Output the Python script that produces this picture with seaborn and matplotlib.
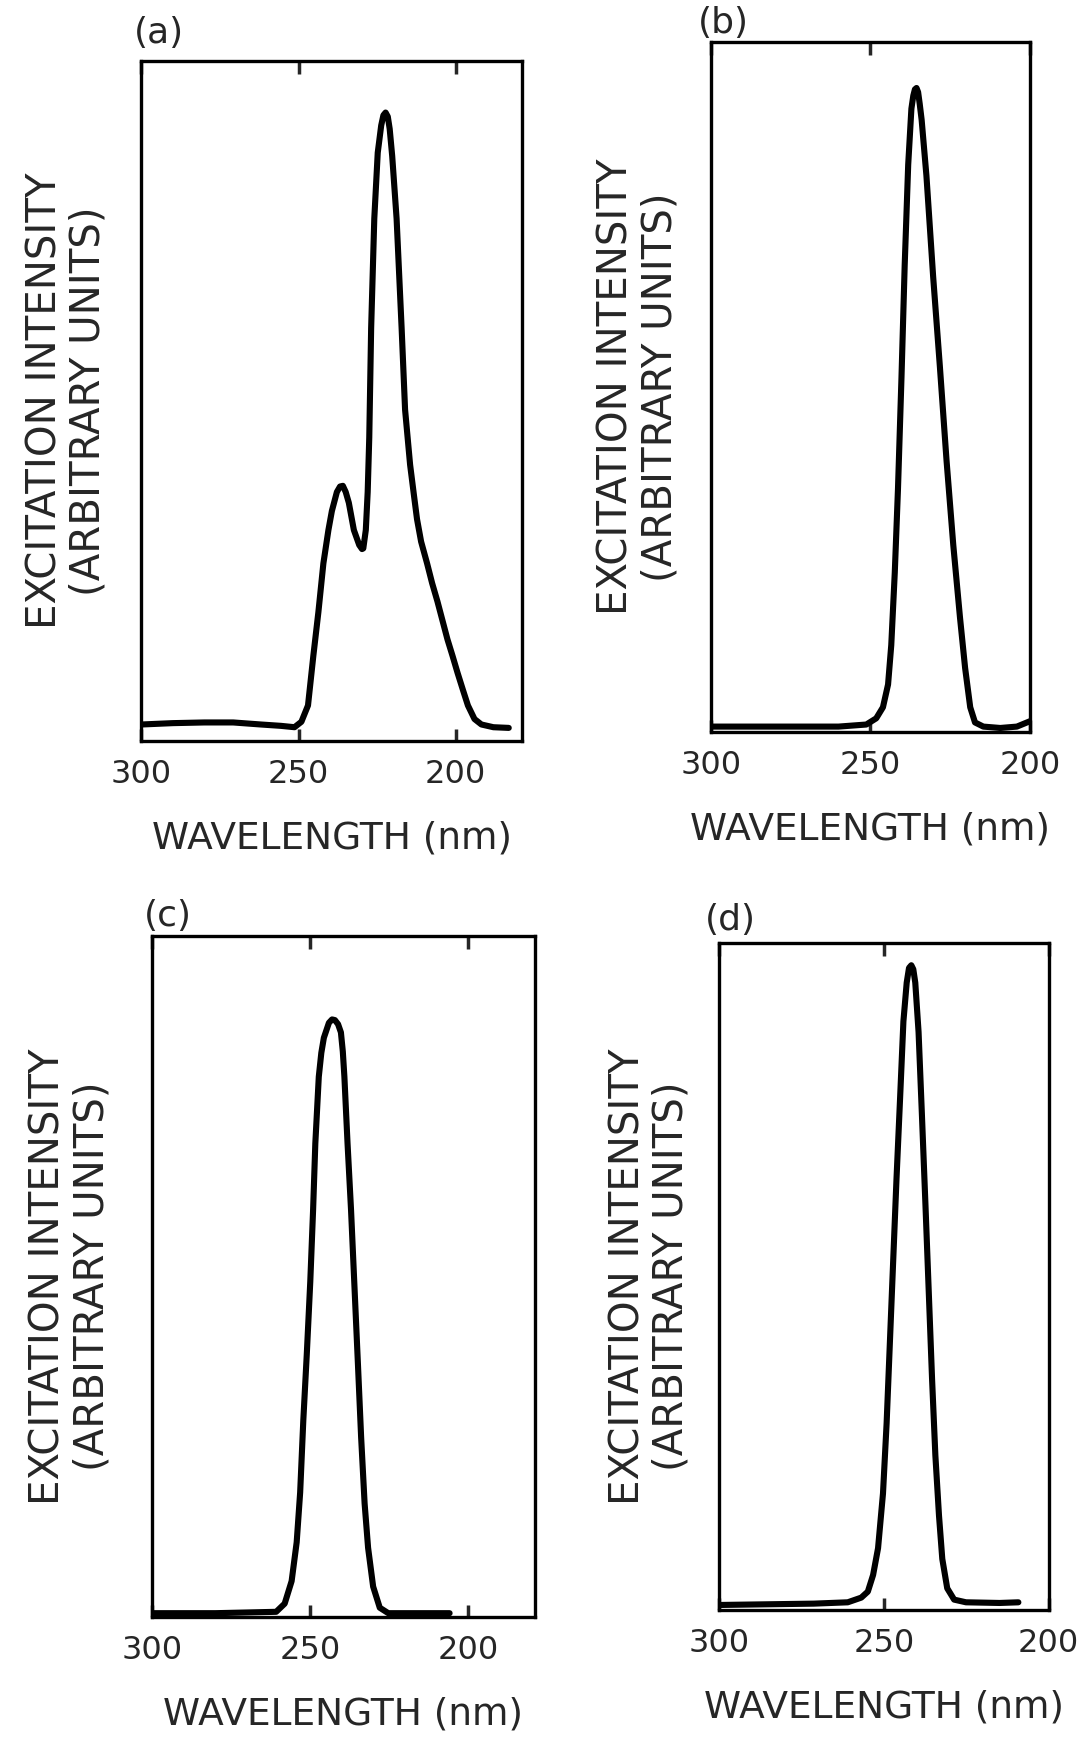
import numpy as np
import matplotlib
matplotlib.use("Agg")
import matplotlib.pyplot as plt
import seaborn as sns

# (a) two-band excitation spectrum
wl_a = [300, 290, 280, 270.8, 262, 255.6, 251.3, 249.1, 247.0, 245.3, 243.7, 242.1,
        240.5, 239.4, 237.8, 236.8, 235.9, 235.0, 234.0, 232.4, 230.7, 229.8, 229.4, 228.6,
        228.0, 227.5, 226.9, 225.9, 224.8, 223.7, 223.0, 222.3, 221.6, 221.0, 220.2,
        218.8, 217.2, 216.1, 214.5, 213.3, 212.3, 211.0, 209.1, 207.5, 205.8, 204.2,
        202.6, 201.0, 199.4, 197.7, 196.1, 194.0, 191.8, 188.0, 183.1]
int_a = [0.024, 0.026, 0.027, 0.027, 0.024, 0.022, 0.020, 0.028, 0.052, 0.125, 0.189, 0.261,
         0.310, 0.338, 0.366, 0.374, 0.375, 0.366, 0.350, 0.310, 0.288, 0.282, 0.283, 0.310,
         0.366, 0.446, 0.607, 0.768, 0.865, 0.905, 0.920, 0.924, 0.918, 0.900, 0.860,
         0.768, 0.607, 0.487, 0.406, 0.362, 0.326, 0.293, 0.261, 0.232, 0.205, 0.177,
         0.149, 0.125, 0.100, 0.075, 0.052, 0.032, 0.024, 0.020, 0.019]

# (b)
wl_b = [300, 280, 260, 251.3, 248.2, 246.1, 244.5, 243.5, 242.4, 241.4, 240.3, 239.3,
        238.2, 237.2, 236.6, 236.1, 235.6, 235.1, 234.6, 234.0, 232.5, 230.4, 228.3,
        226.2, 224.1, 222.0, 220.4, 218.8, 217.3, 214.7, 209.4, 204.2, 200]
int_b = [0.008, 0.008, 0.008, 0.011, 0.020, 0.036, 0.069, 0.126, 0.231, 0.352, 0.514, 0.676,
         0.822, 0.903, 0.922, 0.931, 0.933, 0.927, 0.910, 0.887, 0.806, 0.660, 0.530,
         0.393, 0.271, 0.166, 0.093, 0.036, 0.014, 0.008, 0.006, 0.008, 0.016]

# (c)
wl_c = [300, 280, 260.8, 258.1, 255.9, 254.3, 253.2, 252.2, 251.1, 250.0, 249.1, 248.4,
        247.3, 246.5, 245.7, 244.1, 243.1, 242.2, 241.2, 240.3, 239.7, 239.2, 238.2,
        237.1, 236.0, 234.9, 233.9, 232.8, 231.7, 230.1, 228.0, 225.3, 215, 205.9]
int_c = [0.006, 0.006, 0.008, 0.020, 0.053, 0.110, 0.183, 0.289, 0.386, 0.492, 0.598, 0.695,
         0.793, 0.828, 0.850, 0.872, 0.877, 0.876, 0.870, 0.858, 0.830, 0.793, 0.695,
         0.598, 0.484, 0.370, 0.264, 0.167, 0.102, 0.045, 0.014, 0.006, 0.006, 0.006]

# (d)
wl_d = [300, 271.3, 261, 256.9, 254.9, 253.3, 251.8, 250.3, 249.2, 248.2, 247.2, 246.2,
        245.1, 244.1, 243.1, 242.4, 241.7, 241.1, 240.5, 239.5, 238.5, 237.4, 236.4, 235.4,
        234.4, 233.3, 232.3, 230.8, 228.7, 225.1, 214.9, 209.2]
int_d = [0.008, 0.010, 0.012, 0.019, 0.028, 0.053, 0.093, 0.175, 0.280, 0.402, 0.524, 0.646,
         0.768, 0.882, 0.940, 0.962, 0.966, 0.960, 0.940, 0.866, 0.744, 0.606, 0.476, 0.346,
         0.232, 0.142, 0.077, 0.033, 0.016, 0.012, 0.011, 0.012]

tick_vals = [300, 250, 200]
ylabel = "EXCITATION INTENSITY\n(ARBITRARY UNITS)"
xlabel = "WAVELENGTH (nm)"

sns.set_style("white")
plt.rcParams['font.family'] = ['DejaVu Sans']

fig = plt.figure(figsize=(10.8, 17.39), dpi=100)

panels = [
    # rect, data, xlim, label, label pos, ylabel pad
    ([0.131, 0.574, 0.352, 0.391], wl_a, int_a, (300, 179), "(a)", (0.124, 0.981), 24),
    ([0.658, 0.579, 0.296, 0.397], wl_b, int_b, (300, 200), "(b)", (0.646, 0.987), 22),
    ([0.141, 0.070, 0.354, 0.392], wl_c, int_c, (300, 179), "(c)", (0.133, 0.473), 29),
    ([0.666, 0.074, 0.305, 0.384], wl_d, int_d, (300, 200), "(d)", (0.653, 0.471), 20),
]

for rect, wl, inten, xlim, lab, lpos, ypad in panels:
    ax = fig.add_axes(rect)
    sns.lineplot(x=wl, y=inten, ax=ax, color="black", linewidth=4.4,
                 sort=False, estimator=None, solid_joinstyle="round",
                 solid_capstyle="round")
    ax.set_xlim(*xlim)
    ax.set_ylim(0, 1.0)
    ax.set_xticks(tick_vals)
    ax.set_xticklabels([str(t) for t in tick_vals], fontsize=23)
    ax.set_yticks([])
    ax.tick_params(axis="x", direction="in", top=True, bottom=True,
                   length=9, width=2.5, pad=13)
    for sp in ax.spines.values():
        sp.set_visible(True)
        sp.set_linewidth(2.4)
        sp.set_color("black")
    ax.set_xlabel(xlabel, fontsize=27, labelpad=22)
    ax.set_ylabel(ylabel, fontsize=29, labelpad=ypad, linespacing=1.1)
    fig.text(lpos[0], lpos[1], lab, fontsize=26, ha="left", va="center")

fig.savefig("out.png", dpi=100, facecolor="white")
